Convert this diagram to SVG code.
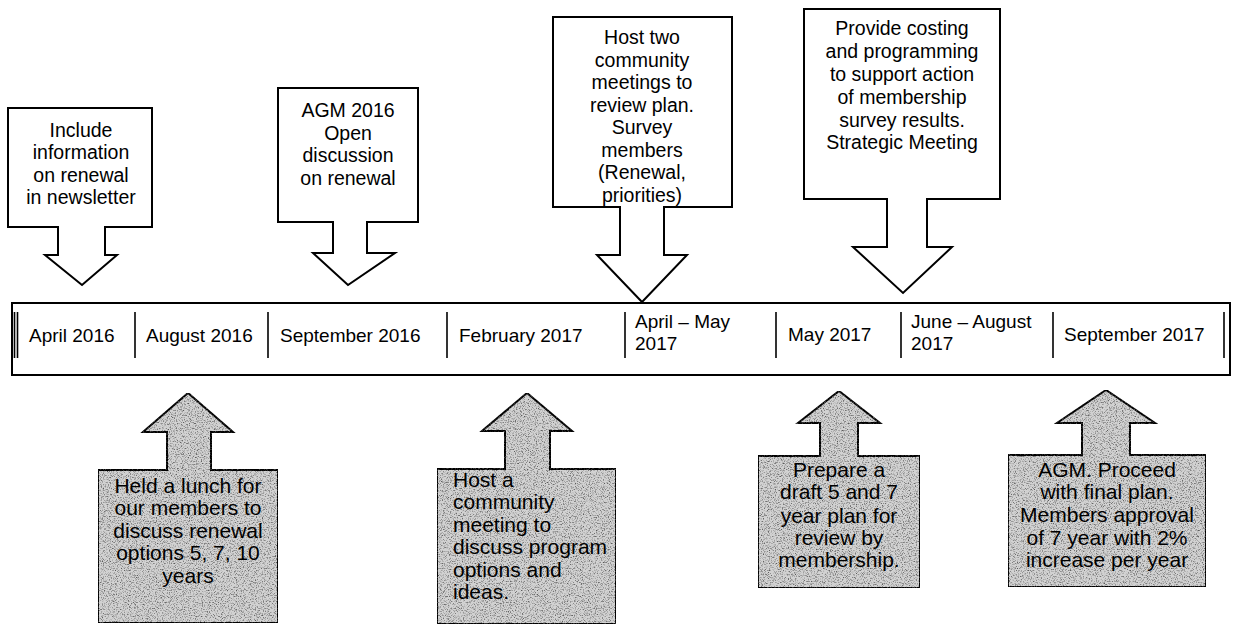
<svg xmlns="http://www.w3.org/2000/svg" width="1235" height="625" viewBox="0 0 1235 625">
<style>
  .top { fill: #ffffff; stroke: #000; stroke-width: 2; stroke-linejoin: miter; }
  .bot { fill: #d2d2d2; stroke: #000; stroke-width: 2; filter: url(#grain); }
  .t { font-family: "Liberation Sans", Arial, sans-serif; font-size: 19.5px; fill: #000; }
  .c { text-anchor: middle; }
  .b { font-family: "Liberation Sans", Arial, sans-serif; font-size: 21px; fill: #000; }
  .d { font-family: "Liberation Sans", Arial, sans-serif; font-size: 19px; fill: #000; }
  .sep { stroke: #000; stroke-width: 1.6; }
</style>
<defs>
  <filter id="grain" x="0" y="0" width="100%" height="100%" color-interpolation-filters="sRGB">
    <feTurbulence type="fractalNoise" baseFrequency="0.85" numOctaves="3" seed="7" result="n"/>
    <feColorMatrix in="n" type="matrix" values="0 0 0 0 0.35  0 0 0 0 0.35  0 0 0 0 0.35  -2.8 0 0 0 1.45" result="spk"/>
    <feComposite in="spk" in2="SourceAlpha" operator="in" result="s"/>
    <feMerge><feMergeNode in="SourceGraphic"/><feMergeNode in="s"/></feMerge>
  </filter>
</defs>
<rect width="1235" height="625" fill="#ffffff"/>

<g id="timeline">
  <rect x="12" y="303" width="1218" height="72" fill="#fff" stroke="#000" stroke-width="2"/>
  <g id="separators">
    <line class="sep" x1="14.5" y1="312" x2="14.5" y2="358"/>
    <line class="sep" x1="17.5" y1="312" x2="17.5" y2="358"/>
    <line class="sep" x1="135" y1="312" x2="135" y2="358"/>
    <line class="sep" x1="268" y1="312" x2="268" y2="358"/>
    <line class="sep" x1="447" y1="312" x2="447" y2="358"/>
    <line class="sep" x1="625" y1="312" x2="625" y2="358"/>
    <line class="sep" x1="776" y1="312" x2="776" y2="358"/>
    <line class="sep" x1="901" y1="312" x2="901" y2="358"/>
    <line class="sep" x1="1053" y1="312" x2="1053" y2="358"/>
    <line class="sep" x1="1224" y1="312" x2="1224" y2="358"/>
  </g>
  <text class="d" x="29" y="342">April 2016</text>
  <text class="d" x="146" y="342">August 2016</text>
  <text class="d" x="280" y="342">September 2016</text>
  <text class="d" x="459" y="342">February 2017</text>
  <text class="d" x="635" y="328">April – May</text>
  <text class="d" x="635" y="350">2017</text>
  <text class="d" x="788" y="341">May 2017</text>
  <text class="d" x="911" y="328">June – August</text>
  <text class="d" x="911" y="350">2017</text>
  <text class="d" x="1064" y="341">September 2017</text>
</g>

<g id="connectors"></g>

<g id="top-apr2016">
  <path class="top" d="M8,108 H152 V227 H105 V255 H117 L82,285 L45,255 H58 V227 H8 Z"/>
  <text class="t c" x="81" y="137">Include</text>
  <text class="t c" x="81" y="159">information</text>
  <text class="t c" x="81" y="182">on renewal</text>
  <text class="t c" x="81" y="204">in newsletter</text>
</g>

<g id="top-sep2016">
  <path class="top" d="M278,88 H418 V222 H367 V253 H395 L348,285 L313,253 H333 V222 H278 Z"/>
  <text class="t c" x="348" y="117">AGM 2016</text>
  <text class="t c" x="348" y="140">Open</text>
  <text class="t c" x="348" y="162">discussion</text>
  <text class="t c" x="348" y="185">on renewal</text>
</g>

<g id="top-aprmay2017">
  <path class="top" d="M553,17 H732 V207 H664 V255 H687 L642,302 L597,255 H620 V207 H553 Z"/>
  <text class="t c" x="642" y="44">Host two</text>
  <text class="t c" x="642" y="67">community</text>
  <text class="t c" x="642" y="89">meetings to</text>
  <text class="t c" x="642" y="112">review plan.</text>
  <text class="t c" x="642" y="134">Survey</text>
  <text class="t c" x="642" y="157">members</text>
  <text class="t c" x="642" y="179">(Renewal,</text>
  <text class="t c" x="642" y="202">priorities)</text>
</g>

<g id="top-junaug2017">
  <path class="top" d="M804,9 H1000 V199 H927 V247 H952 L903,293 L853,247 H887 V199 H804 Z"/>
  <text class="t c" x="902" y="35">Provide costing</text>
  <text class="t c" x="902" y="58">and programming</text>
  <text class="t c" x="902" y="81">to support action</text>
  <text class="t c" x="902" y="104">of membership</text>
  <text class="t c" x="902" y="127">survey results.</text>
  <text class="t c" x="902" y="149">Strategic Meeting</text>
</g>

<g id="bot-aug2016">
  <path class="bot" d="M188,393 L233,432 H211 V470 H278 V623 H98 V470 H167 V432 H143 Z"/>
  <text class="b c" x="188" y="493">Held a lunch for</text>
  <text class="b c" x="188" y="515">our members to</text>
  <text class="b c" x="188" y="538">discuss renewal</text>
  <text class="b c" x="188" y="560">options 5, 7, 10</text>
  <text class="b c" x="188" y="583">years</text>
</g>

<g id="bot-feb2017">
  <path class="bot" d="M527,393 L572,431 H550 V469 H616 V624 H437 V469 H505 V431 H482 Z"/>
  <text class="b" x="453" y="487">Host a</text>
  <text class="b" x="453" y="509">community</text>
  <text class="b" x="453" y="532">meeting to</text>
  <text class="b" x="453" y="554">discuss program</text>
  <text class="b" x="453" y="577">options and</text>
  <text class="b" x="453" y="599">ideas.</text>
</g>

<g id="bot-may2017">
  <path class="bot" d="M839,391 L880,423 H858 V456 H920 V588 H758 V456 H820 V423 H798 Z"/>
  <text class="b c" x="839" y="477">Prepare a</text>
  <text class="b c" x="839" y="499">draft 5 and 7</text>
  <text class="b c" x="839" y="523">year plan for</text>
  <text class="b c" x="839" y="545">review by</text>
  <text class="b c" x="839" y="567">membership.</text>
</g>

<g id="bot-sep2017">
  <path class="bot" d="M1106,390 L1155,423 H1130 V455 H1206 V587 H1008 V455 H1082 V423 H1057 Z"/>
  <text class="b c" x="1107" y="477">AGM. Proceed</text>
  <text class="b c" x="1107" y="499">with final plan.</text>
  <text class="b c" x="1107" y="522">Members approval</text>
  <text class="b c" x="1107" y="545">of 7 year with 2%</text>
  <text class="b c" x="1107" y="567">increase per year</text>
</g>
</svg>
